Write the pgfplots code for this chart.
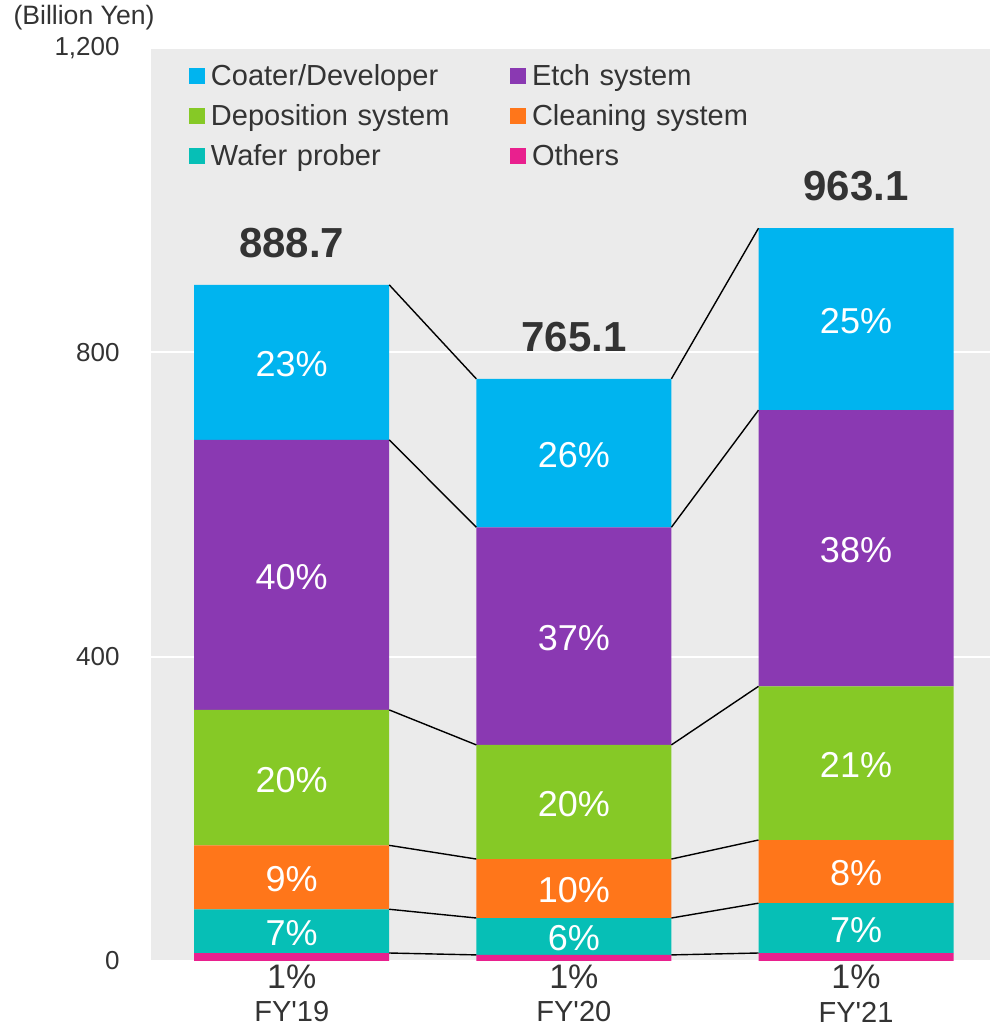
\documentclass[border=0pt]{standalone}
\usepackage{fontspec}
\setmainfont{Liberation Sans}
\usepackage{pgfplots}
\pgfplotsset{compat=1.18}
\definecolor{coater}{HTML}{00B4EF}
\definecolor{etch}{HTML}{8A39B2}
\definecolor{depo}{HTML}{86C926}
\definecolor{clean}{HTML}{FF761A}
\definecolor{wafer}{HTML}{06BFB6}
\definecolor{others}{HTML}{E9208E}
\definecolor{bgray}{HTML}{EBEBEB}
\definecolor{tgray}{HTML}{333333}
\tikzset{
  conn/.style={black, line width=0.7pt},
  pct/.style={text=white, font=\fontsize{18}{20}\selectfont, inner sep=0pt, anchor=center, yshift=-1pt},
  tot/.style={text=tgray, font=\bfseries\fontsize{21}{23}\selectfont, inner sep=0pt, anchor=center, yshift=21pt},
  one/.style={text=tgray, font=\fontsize{17}{19}\selectfont, inner sep=0pt, anchor=center, yshift=-8pt},
}
\begin{document}
\begin{tikzpicture}
\path[use as bounding box] (-75.5pt,-33pt) rectangle (419.5pt,480.5pt);
\begin{axis}[
  at={(0pt,0pt)}, anchor=south west,
  scale only axis, width=419.5pt, height=456.5pt,
  xmin=-0.4987, xmax=2.4749, ymin=0, ymax=1200,
  ybar stacked, bar width=97.5pt,
  axis background/.style={fill=bgray},
  axis line style={draw=none},
  major tick length=0pt,
  ymajorgrids, major grid style={white, line width=1pt},
  ytick={0,400,800,1200}, yticklabels={0,400,800,{1,200}},
  xtick={0,1,2}, xticklabels={FY\textquotesingle19,FY\textquotesingle20,FY\textquotesingle21},
  yticklabel style={anchor=east, inner sep=0pt, xshift=-15.5pt, font=\fontsize{13}{15}\selectfont, text=tgray},
  xticklabel style={anchor=center, inner sep=0pt, yshift=-25.5pt, font=\fontsize{14.5}{16}\selectfont, text=tgray},
  legend columns=2, reverse legend,
  legend image code/.code={\fill[#1] (0pt,-4pt) rectangle (8pt,4pt);},
  legend cell align=left,
  legend style={at={(rel axis cs:0,1)}, anchor=north west, xshift=19pt, yshift=-9pt,
    draw=none, fill=none, inner sep=0pt, outer sep=0pt,
    font=\fontsize{14.5}{16}\selectfont, text=tgray,
    row sep=10pt, column sep=0pt,
    nodes={inner sep=0pt, text height=10pt, text depth=0pt, text width=149.5pt, align=left},
    /tikz/every odd column/.append style={column sep=3pt}},
]
\addplot[fill=others, draw=none] coordinates {(0,10.5) (1,8) (2,10.5)};
\addlegendentry{Others}
\addplot[fill=wafer, draw=none] coordinates {(0,57.5) (1,48.5) (2,65.5)};
\addlegendentry{Wafer prober}
\addplot[fill=clean, draw=none] coordinates {(0,84) (1,77.5) (2,83)};
\addlegendentry{Cleaning system}
\addplot[fill=depo, draw=none] coordinates {(0,178) (1,150) (2,202)};
\addlegendentry{Deposition system}
\addplot[fill=etch, draw=none] coordinates {(0,355) (1,286) (2,363)};
\addlegendentry{Etch system}
\addplot[fill=coater, draw=none] coordinates {(0,203.7) (1,195.1) (2,239.1)};
\addlegendentry{Coater/Developer}
\end{axis}
\begin{axis}[
  at={(0pt,0pt)}, anchor=south west,
  scale only axis, width=419.5pt, height=456.5pt,
  xmin=-0.4987, xmax=2.4749, ymin=0, ymax=1200,
  hide axis, clip=false, unbounded coords=jump,
]
\addplot[conn, mark=none] coordinates {(0.3456,10.5) (0.6544,8) (1,nan) (1.3456,8) (1.6544,10.5)};
\addplot[conn, mark=none] coordinates {(0.3456,68) (0.6544,56.5) (1,nan) (1.3456,56.5) (1.6544,76)};
\addplot[conn, mark=none] coordinates {(0.3456,152) (0.6544,134) (1,nan) (1.3456,134) (1.6544,159)};
\addplot[conn, mark=none] coordinates {(0.3456,330) (0.6544,284) (1,nan) (1.3456,284) (1.6544,361)};
\addplot[conn, mark=none] coordinates {(0.3456,685) (0.6544,570) (1,nan) (1.3456,570) (1.6544,724)};
\addplot[conn, mark=none] coordinates {(0.3456,888.7) (0.6544,765.1) (1,nan) (1.3456,765.1) (1.6544,963.1)};
% percentage labels
\node[pct] at (axis cs:0,786.9) {23\%};
\node[pct] at (axis cs:0,507.5) {40\%};
\node[pct] at (axis cs:0,241) {20\%};
\node[pct] at (axis cs:0,110) {9\%};
\node[pct] at (axis cs:0,39.3) {7\%};
\node[pct] at (axis cs:1,667.6) {26\%};
\node[pct] at (axis cs:1,427) {37\%};
\node[pct] at (axis cs:1,209) {20\%};
\node[pct] at (axis cs:1,95.3) {10\%};
\node[pct] at (axis cs:1,32.3) {6\%};
\node[pct] at (axis cs:2,843.6) {25\%};
\node[pct] at (axis cs:2,542.5) {38\%};
\node[pct] at (axis cs:2,260) {21\%};
\node[pct] at (axis cs:2,117.5) {8\%};
\node[pct] at (axis cs:2,43.3) {7\%};
\node[one] at (axis cs:0,0) {1\%};
\node[one] at (axis cs:1,0) {1\%};
\node[one] at (axis cs:2,0) {1\%};
\node[tot] at (axis cs:0,888.7) {888.7};
\node[tot] at (axis cs:1,765.1) {765.1};
\node[tot] at (axis cs:2,963.1) {963.1};
\node[text=tgray, font=\fontsize{13.3}{15}\selectfont, inner sep=0pt, anchor=center] at ([xshift=-33.5pt, yshift=15pt]rel axis cs:0,1) {(Billion Yen)};
\end{axis}
\end{tikzpicture}
\end{document}
